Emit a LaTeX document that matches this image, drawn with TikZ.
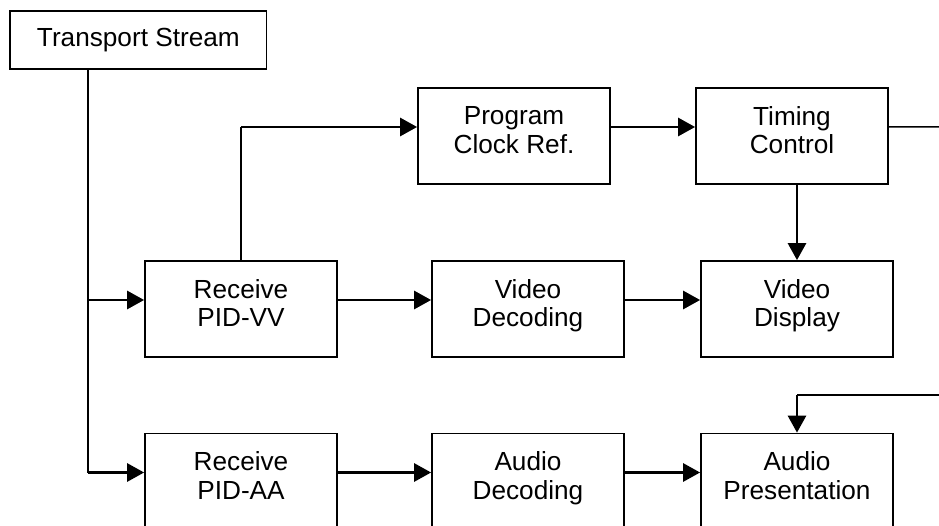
\documentclass[tikz,border=0pt]{standalone}
\usepackage{fontspec}
\setmainfont{Liberation Sans}
\usetikzlibrary{arrows.meta}

\tikzset{
  blockbox/.style={draw, line width=0.035cm, minimum width=3.84cm, minimum height=1.92cm,
    align=center, inner sep=0pt, execute at end node={\rule[-0.24cm]{0pt}{0.24cm}}},
  thinline/.style={line width=0.03cm},
  arrowline/.style={line width=0.055cm, -{Triangle[length=0.34cm,width=0.36cm]}}
}

\begin{document}
\begin{tikzpicture}
                            \useasboundingbox (0,0) rectangle (18.78,10.5);
                            \clip (0,0) rectangle (18.78,10.5);
                            {\fontsize{14.9}{16.1}\selectfont

                            % Drawing box Transport Stream
                            \node [draw, line width=0.035cm, minimum width=5.13cm, minimum height=1.16cm, inner sep=0pt] (ts) at (2.767,9.700) {Transport Stream};%

                            % Drawing boxes of the clock row
                            \node [blockbox] (pcr) at (10.280,7.780) {Program\\Clock Ref.};%
                            \node [blockbox] (tc) at (15.840,7.780) {Timing\\Control};%

                            % Drawing boxes of the video row
                            \node [blockbox] (rvv) at (4.820,4.320) {Receive\\PID-VV};%
                            \node [blockbox] (vdec) at (10.560,4.320) {Video\\Decoding};%
                            \node [blockbox] (vd) at (15.940,4.320) {Video\\Display};%

                            % Drawing boxes of the audio row
                            \node [blockbox] (ra) at (4.820,0.870) {Receive\\PID-AA};%
                            \node [blockbox] (adec) at (10.560,0.870) {Audio\\Decoding};%
                            \node [blockbox] (ap) at (15.940,0.870) {Audio\\Presentation};%

                            % Marking points of the lines
                            \coordinate (split) at (1.755,0.000);%
                            \coordinate (rvvin) at ([yshift=0.18cm]rvv.west);%
                            \coordinate (rain) at ([yshift=0.18cm]ra.west);%
                            \coordinate (pcrin) at ([yshift=0.18cm]pcr.west);%
                            \coordinate (tcout) at (19.200,7.960);%
                            \coordinate (apin) at (19.200,2.600);%

                            % Drawing line from Transport Stream
                            \draw [thinline] (ts.south -| split) -- (split |- rain);%
                            \draw [arrowline] (split |- rvvin) -- (rvvin);%
                            \draw [arrowline] (split |- rain) -- (rain);%

                            % Drawing line to Program Clock Ref.
                            \draw [thinline] (rvv.north) -- (rvv.north |- pcrin);%
                            \draw [arrowline] (rvv.north |- pcrin) -- (pcrin);%
                            \draw [arrowline] ([yshift=0.18cm]pcr.east) -- ([yshift=0.18cm]tc.west);%

                            % Drawing lines of Timing Control
                            \draw [thinline] ([yshift=0.18cm]tc.east) -- (tcout);%
                            \draw [arrowline] (vd.north |- tc.south) -- (vd.north);%

                            % Drawing arrows of the video row
                            \draw [arrowline] ([yshift=0.18cm]rvv.east) -- ([yshift=0.18cm]vdec.west);%
                            \draw [arrowline] ([yshift=0.18cm]vdec.east) -- ([yshift=0.18cm]vd.west);%

                            % Drawing arrows of the audio row
                            \draw [arrowline] ([yshift=0.18cm]ra.east) -- ([yshift=0.18cm]adec.west);%
                            \draw [arrowline] ([yshift=0.18cm]adec.east) -- ([yshift=0.18cm]ap.west);%
                            \draw [thinline] (apin) -- (ap.north |- apin);%
                            \draw [arrowline] (ap.north |- apin) -- (ap.north);%
                            }
\end{tikzpicture}
\end{document}
